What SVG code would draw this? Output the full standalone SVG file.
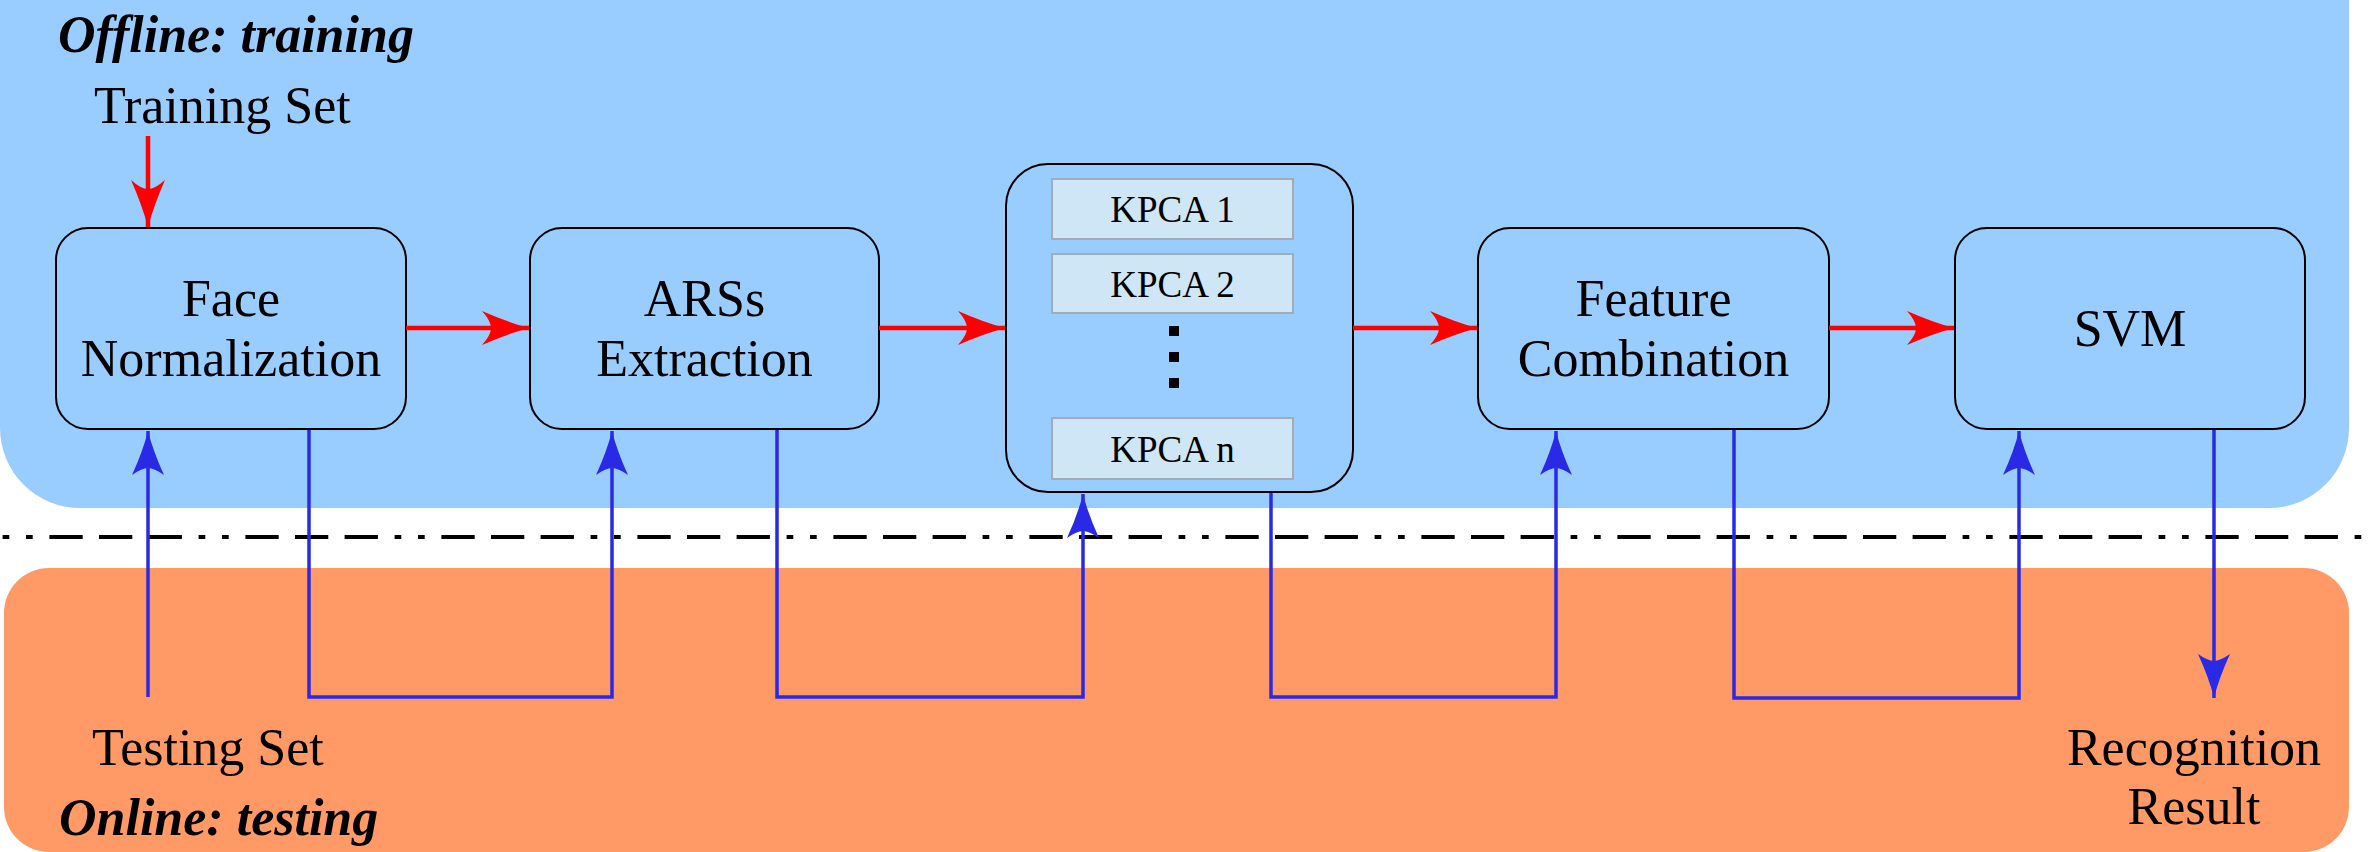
<svg xmlns="http://www.w3.org/2000/svg" width="2375" height="852" viewBox="0 0 2375 852">
<style>
.t{font-family:"Liberation Serif","Times New Roman",serif;font-size:52px;fill:#000}
.h{font-family:"Liberation Serif","Times New Roman",serif;font-size:52px;font-weight:bold;font-style:italic;fill:#000}
.k{font-family:"Liberation Serif","Times New Roman",serif;font-size:37px;fill:#000}
.box{fill:#99ccff;stroke:#000;stroke-width:2}
.inner{fill:#cfe6f6;stroke:#a2acb6;stroke-width:2}
.red{fill:none;stroke:#ff0000;stroke-width:4.5}
.blue{fill:none;stroke:#2a2ae6;stroke-width:3.5}
</style>
<defs>
<marker id="ar" markerUnits="userSpaceOnUse" viewBox="-50 -20 52 40" refX="0" refY="0" markerWidth="52" markerHeight="40" orient="auto">
<path d="M0,0 Q-22,-6 -47,-17 Q-38,-7 -38,0 Q-38,7 -47,17 Q-22,6 0,0 Z" fill="#ff0000"/>
</marker>
<marker id="ab" markerUnits="userSpaceOnUse" viewBox="-50 -20 52 40" refX="0" refY="0" markerWidth="52" markerHeight="40" orient="auto">
<path d="M0,0 Q-20,-5 -44,-16 Q-37,-6 -37,0 Q-37,6 -44,16 Q-20,5 0,0 Z" fill="#2a2ae6"/>
</marker>
</defs>
<rect width="2375" height="852" fill="#ffffff"/>
<g id="panel-offline">
<rect x="0" y="-80" width="2349" height="588" rx="80" ry="80" fill="#99ccff"/>
<text class="h" x="58" y="52">Offline: training</text>
</g>
<g id="panel-online">
<rect x="4" y="568" width="2345" height="284" rx="45" ry="45" fill="#ff9966"/>
<text class="h" x="59" y="835">Online: testing</text>
</g>
<line x1="2.6" y1="537" x2="2375" y2="537" stroke="#000" stroke-width="4" stroke-dasharray="6.7 16.7 6.7 16.7 33.3 16.3 33.3 16.3 33.3 16.7"/>
<g id="training-set"><text class="t" x="94" y="123">Training Set</text></g>
<g id="testing-set"><text class="t" x="92" y="765">Testing Set</text></g>
<g id="recognition-result"><text class="t" x="2194" y="765" text-anchor="middle">Recognition</text><text class="t" x="2194" y="824" text-anchor="middle">Result</text></g>
<g id="face-normalization">
<rect class="box" x="56" y="228" width="350" height="201" rx="32" ry="32"/>
<text class="t" x="231" y="316" text-anchor="middle">Face</text>
<text class="t" x="231" y="376" text-anchor="middle">Normalization</text>
</g>
<g id="ars-extraction">
<rect class="box" x="530" y="228" width="349" height="201" rx="32" ry="32"/>
<text class="t" x="704.5" y="316" text-anchor="middle">ARSs</text>
<text class="t" x="704.5" y="376" text-anchor="middle">Extraction</text>
</g>
<g id="kpca">
<rect class="box" x="1006" y="164" width="347" height="328" rx="42" ry="42"/>
<rect class="inner" x="1052" y="179" width="241" height="60"/>
<text class="k" x="1172.5" y="222" text-anchor="middle">KPCA 1</text>
<rect class="inner" x="1052" y="254" width="241" height="59"/>
<text class="k" x="1172.5" y="297" text-anchor="middle">KPCA 2</text>
<rect x="1169" y="326" width="10" height="10" fill="#000"/>
<rect x="1169" y="352" width="10" height="10" fill="#000"/>
<rect x="1169" y="378" width="10" height="10" fill="#000"/>
<rect class="inner" x="1052" y="418" width="241" height="61"/>
<text class="k" x="1172.5" y="462" text-anchor="middle">KPCA n</text>
</g>
<g id="feature-combination">
<rect class="box" x="1478" y="228" width="351" height="201" rx="32" ry="32"/>
<text class="t" x="1653.5" y="316" text-anchor="middle">Feature</text>
<text class="t" x="1653.5" y="376" text-anchor="middle">Combination</text>
</g>
<g id="svm">
<rect class="box" x="1955" y="228" width="350" height="201" rx="32" ry="32"/>
<text class="t" x="2130" y="346" text-anchor="middle">SVM</text>
</g>
<g id="connectors">
<path class="red" d="M148,136 V227" marker-end="url(#ar)"/>
<path class="red" d="M406,328 H529" marker-end="url(#ar)"/>
<path class="red" d="M879,328 H1005" marker-end="url(#ar)"/>
<path class="red" d="M1353,328 H1477" marker-end="url(#ar)"/>
<path class="red" d="M1829,328 H1954" marker-end="url(#ar)"/>
<path class="blue" d="M148,697 V431" marker-end="url(#ab)"/>
<path class="blue" d="M309,430 V697 H612 V431" marker-end="url(#ab)"/>
<path class="blue" d="M777,430 V697 H1083 V494" marker-end="url(#ab)"/>
<path class="blue" d="M1271,493 V697 H1556 V431" marker-end="url(#ab)"/>
<path class="blue" d="M1734,430 V698 H2019 V431" marker-end="url(#ab)"/>
<path class="blue" d="M2214,430 V698" marker-end="url(#ab)"/>
</g>
</svg>
